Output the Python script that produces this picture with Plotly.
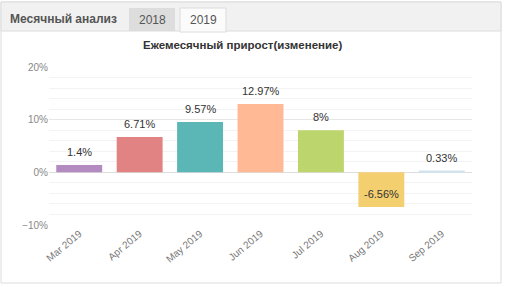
import plotly.graph_objects as go

months = ["Mar 2019", "Apr 2019", "May 2019", "Jun 2019", "Jul 2019", "Aug 2019", "Sep 2019"]
growth = [1.4, 6.71, 9.57, 12.97, 8, -6.56, 0.33]
bar_colors = ["#b48bc0", "#e28383", "#5bb7b5", "#ffb994", "#bcd56d", "#f4cf70", "#d3e3ee"]
labels = [f"{v:g}%" for v in growth]
tabs = ["2018", "2019"]
panel_title = "Месячный анализ"
chart_title = "Ежемесячный прирост(изменение)"

W, H = 505, 287
L, R, T, B = 49, 33, 67, 62
PW, PH = W - L - R, H - T - B

FONT = "Liberation Sans, Arial, sans-serif"

def px(x):
    return (x - L) / PW

def py(y):
    return (H - B - y) / PH

fig = go.Figure(go.Bar(
    x=months, y=growth,
    marker=dict(color=bar_colors, line=dict(width=0)),
    hoverinfo="x+y",
))

shapes = [
    dict(type="rect", xref="paper", yref="paper", x0=px(1), x1=px(501), y0=py(283), y1=py(2),
         line=dict(color="#dcdcdc", width=1), fillcolor="white", layer="below"),
    dict(type="rect", xref="paper", yref="paper", x0=px(1), x1=px(501), y0=py(31), y1=py(2),
         line=dict(color="#dcdcdc", width=1), fillcolor="#f1f1f1", layer="below"),
    dict(type="rect", xref="paper", yref="paper", x0=px(129), x1=px(175), y0=py(31), y1=py(8),
         line=dict(width=0), fillcolor="#dddddd", layer="below"),
    dict(type="rect", xref="paper", yref="paper", x0=px(180), x1=px(226), y0=py(32), y1=py(8),
         line=dict(color="#dcdcdc", width=1), fillcolor="#fbfbfb", layer="below"),
]

def paper_text(text, x, y, size, color):
    return dict(text=text, x=px(x), y=py(y), xref="paper", yref="paper",
                xanchor="center", yanchor="middle", showarrow=False,
                font=dict(family=FONT, size=size, color=color))

annotations = [
    paper_text(f"<b>{panel_title}</b>", 63, 19, 12, "#555"),
    paper_text(tabs[0], 152, 20, 12, "#555"),
    paper_text(tabs[1], 203, 20, 12, "#555"),
    paper_text(f"<b>{chart_title}</b>", 242, 45, 11.5, "#333"),
]

# value labels, placed from the data
for m, v, lab in zip(months, growth, labels):
    annotations.append(dict(
        text=lab, x=m, y=v, xref="x", yref="y",
        xanchor="center", yanchor="bottom", showarrow=False,
        yshift=5 if v >= 0 else 5,
        font=dict(family=FONT, size=11, color="#333"),
    ))

fig.update_layout(
    width=W, height=H,
    margin=dict(l=L, r=R, t=T, b=B, pad=0),
    paper_bgcolor="white", plot_bgcolor="rgba(0,0,0,0)",
    bargap=0.24, showlegend=False,
    shapes=shapes, annotations=annotations,
    xaxis=dict(
        tickangle=-40, tickfont=dict(family=FONT, size=10, color="#777"),
        showline=False, showgrid=False, ticks="", fixedrange=True,
    ),
    yaxis=dict(
        range=[-10, 20], dtick=10, ticksuffix="%",
        tickfont=dict(family=FONT, size=10, color="#888"),
        showgrid=True, gridcolor="#e6e6e6", gridwidth=1,
        minor=dict(dtick=2, showgrid=True, gridcolor="#f3f3f3", gridwidth=1),
        zeroline=True, zerolinecolor="#dddddd", zerolinewidth=1,
        showline=False, ticks="", fixedrange=True,
    ),
)

fig.write_html("out.html")
